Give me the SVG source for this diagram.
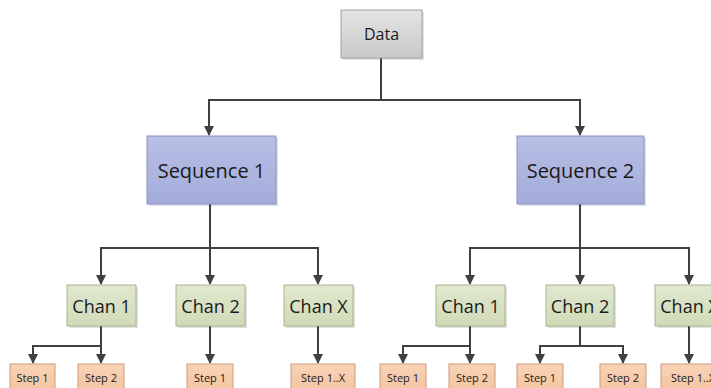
<svg xmlns="http://www.w3.org/2000/svg" width="711" height="388" viewBox="0 0 711 388">
  <style>
    text { font-family: "Open Sans", "Liberation Sans", sans-serif; fill: #1a1a1a; text-anchor: middle; dominant-baseline: central; }
    .data { fill: url(#gGray); stroke: #a0a0a0; stroke-width: 1; }
    .seq { fill: url(#gBlue); stroke: #8a93c4; stroke-width: 1; }
    .chan { fill: url(#gGreen); stroke: #a8b58c; stroke-width: 1; }
    .step { fill: url(#gOrange); stroke: #c99c7a; stroke-width: 1; }
    .shadow { fill: #000; opacity: 0.12; }
    .wire { fill: none; stroke: #404040; stroke-width: 2; }
    .t16 { font-size: 16px; }
    .t21 { font-size: 20px; }
    .t18 { font-size: 18px; }
    .t11 { font-size: 11px; }
  </style>
  <defs>
    <linearGradient id="gGray" x1="0" y1="0" x2="0" y2="1">
      <stop offset="0" stop-color="#e4e4e4"/>
      <stop offset="1" stop-color="#c9c9c9"/>
    </linearGradient>
    <linearGradient id="gBlue" x1="0" y1="0" x2="0" y2="1">
      <stop offset="0" stop-color="#b8c0e6"/>
      <stop offset="1" stop-color="#a3abda"/>
    </linearGradient>
    <linearGradient id="gGreen" x1="0" y1="0" x2="0" y2="1">
      <stop offset="0" stop-color="#e1e8cf"/>
      <stop offset="1" stop-color="#d0dab7"/>
    </linearGradient>
    <linearGradient id="gOrange" x1="0" y1="0" x2="0" y2="1">
      <stop offset="0" stop-color="#f9d3b6"/>
      <stop offset="1" stop-color="#f3c29e"/>
    </linearGradient>
    <marker id="arrow" viewBox="0 0 10 10" refX="9" refY="5" markerWidth="5" markerHeight="5" orient="auto" markerUnits="strokeWidth">
      <path d="M0,0 L10,5 L0,10 Z" fill="#404040"/>
    </marker>
  </defs>

  <!-- connectors -->
  <g id="connectors">
    <path class="wire" d="M381,58 V100 H209 V135" marker-end="url(#arrow)"/>
    <path class="wire" d="M381,100 H580 V135" marker-end="url(#arrow)"/>
    <!-- sequence 1 to channels -->
    <path class="wire" d="M210,204 V248 H101 V284" marker-end="url(#arrow)"/>
    <path class="wire" d="M210,248 V284" marker-end="url(#arrow)"/>
    <path class="wire" d="M210,248 H318 V284" marker-end="url(#arrow)"/>
    <!-- sequence 2 to channels -->
    <path class="wire" d="M580,204 V248 H470 V284" marker-end="url(#arrow)"/>
    <path class="wire" d="M580,248 V284" marker-end="url(#arrow)"/>
    <path class="wire" d="M580,248 H689 V284" marker-end="url(#arrow)"/>
    <!-- channels to steps -->
    <path class="wire" d="M101,326 V346 H33 V363" marker-end="url(#arrow)"/>
    <path class="wire" d="M101,346 V363" marker-end="url(#arrow)"/>
    <path class="wire" d="M210,326 V363" marker-end="url(#arrow)"/>
    <path class="wire" d="M318,326 V363" marker-end="url(#arrow)"/>
    <path class="wire" d="M470,326 V346 H403 V363" marker-end="url(#arrow)"/>
    <path class="wire" d="M470,346 V363" marker-end="url(#arrow)"/>
    <path class="wire" d="M580,326 V346 H540 V363" marker-end="url(#arrow)"/>
    <path class="wire" d="M580,346 H623 V363" marker-end="url(#arrow)"/>
    <path class="wire" d="M689,326 V363" marker-end="url(#arrow)"/>
  </g>

  <g id="data">
    <rect class="shadow" x="343" y="12" width="81" height="48"/>
    <rect class="data" x="341" y="10" width="81" height="48"/>
    <text class="t16" x="381.5" y="34">Data</text>
  </g>

  <g id="seq1">
    <rect class="shadow" x="149" y="138" width="129" height="68"/>
    <rect class="seq" x="147" y="136" width="129" height="68"/>
    <text class="t21" x="211.5" y="170">Sequence 1</text>
  </g>
  <g id="seq2">
    <rect class="shadow" x="519" y="138" width="127" height="68"/>
    <rect class="seq" x="517" y="136" width="127" height="68"/>
    <text class="t21" x="580.5" y="170">Sequence 2</text>
  </g>

  <g id="s1-chan1">
    <rect class="shadow" x="69" y="287" width="69" height="41"/>
    <rect class="chan" x="67" y="285" width="69" height="41"/>
    <text class="t18" x="101.5" y="305.5">Chan 1</text>
  </g>
  <g id="s1-chan2">
    <rect class="shadow" x="178" y="287" width="69" height="41"/>
    <rect class="chan" x="176" y="285" width="69" height="41"/>
    <text class="t18" x="210.5" y="305.5">Chan 2</text>
  </g>
  <g id="s1-chanx">
    <rect class="shadow" x="286" y="287" width="69" height="41"/>
    <rect class="chan" x="284" y="285" width="69" height="41"/>
    <text class="t18" x="318.5" y="305.5">Chan X</text>
  </g>
  <g id="s2-chan1">
    <rect class="shadow" x="438" y="287" width="69" height="41"/>
    <rect class="chan" x="436" y="285" width="69" height="41"/>
    <text class="t18" x="470.5" y="305.5">Chan 1</text>
  </g>
  <g id="s2-chan2">
    <rect class="shadow" x="548" y="287" width="68" height="41"/>
    <rect class="chan" x="546" y="285" width="68" height="41"/>
    <text class="t18" x="580" y="305.5">Chan 2</text>
  </g>
  <g id="s2-chanx">
    <rect class="shadow" x="657" y="287" width="69" height="41"/>
    <rect class="chan" x="655" y="285" width="69" height="41"/>
    <text class="t18" x="689.5" y="305.5">Chan X</text>
  </g>

  <g id="s1-c1-step1">
    <rect class="step" x="10" y="364" width="45" height="30"/>
    <text class="t11" x="32.5" y="377">Step 1</text>
  </g>
  <g id="s1-c1-step2">
    <rect class="step" x="78" y="364" width="46" height="30"/>
    <text class="t11" x="101" y="377">Step 2</text>
  </g>
  <g id="s1-c2-step1">
    <rect class="step" x="187" y="364" width="46" height="30"/>
    <text class="t11" x="210" y="377">Step 1</text>
  </g>
  <g id="s1-cx-steps">
    <rect class="step" x="291" y="364" width="64" height="30"/>
    <text class="t11" x="323" y="377">Step 1..X</text>
  </g>
  <g id="s2-c1-step1">
    <rect class="step" x="380" y="364" width="46" height="30"/>
    <text class="t11" x="403" y="377">Step 1</text>
  </g>
  <g id="s2-c1-step2">
    <rect class="step" x="449" y="364" width="46" height="30"/>
    <text class="t11" x="472" y="377">Step 2</text>
  </g>
  <g id="s2-c2-step1">
    <rect class="step" x="517" y="364" width="46" height="30"/>
    <text class="t11" x="540" y="377">Step 1</text>
  </g>
  <g id="s2-c2-step2">
    <rect class="step" x="600" y="364" width="46" height="30"/>
    <text class="t11" x="623" y="377">Step 2</text>
  </g>
  <g id="s2-cx-steps">
    <rect class="step" x="661" y="364" width="64" height="30"/>
    <text class="t11" x="693" y="377">Step 1..X</text>
  </g>
</svg>
